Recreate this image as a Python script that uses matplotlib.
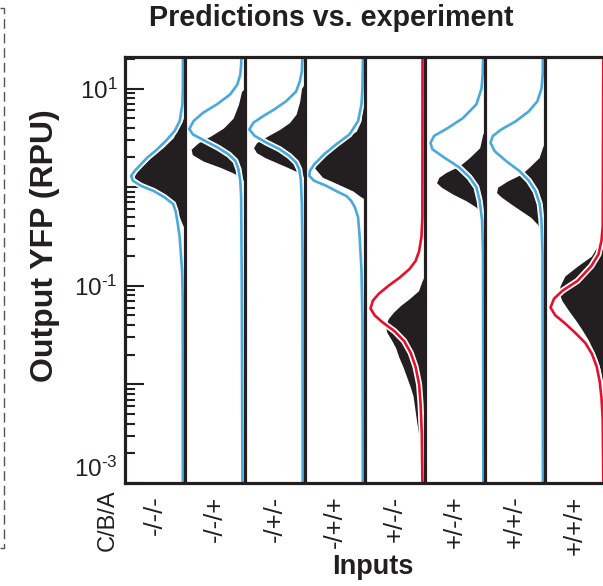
import matplotlib
matplotlib.use("Agg")
import matplotlib.pyplot as plt
import matplotlib.font_manager as fm
from matplotlib import patheffects as pe
from matplotlib.lines import Line2D
from matplotlib.ticker import LogLocator, NullFormatter
import numpy as np

# ---------------- data (log10 of output YFP in RPU, relative density) ----------------
inputs = ['-/-/-', '-/-/+', '-/+/-', '-/+/+', '+/-/-', '+/-/+', '+/+/-', '+/+/+']
pred_colors = ['blue', 'blue', 'blue', 'blue', 'red', 'blue', 'blue', 'red']

exp_1 = [(0.72, 0), (0.67, 0.04), (0.50, 0.19), (0.40, 0.36), (0.33, 0.51), (0.23, 0.68), (0.165, 0.79),
         (0.10, 0.85), (0.03, 0.79), (-0.04, 0.62), (-0.10, 0.40), (-0.17, 0.22), (-0.24, 0.14),
         (-0.31, 0.08), (-0.37, 0.04), (-0.42, 0)]
pred_1 = [(1.35, 0.025), (1.0, 0.028), (0.84, 0.035), (0.67, 0.08), (0.57, 0.165), (0.47, 0.31), (0.37, 0.48),
          (0.30, 0.62), (0.23, 0.73), (0.165, 0.83), (0.115, 0.89), (0.065, 0.86), (0.015, 0.73),
          (-0.04, 0.51), (-0.10, 0.34), (-0.17, 0.19), (-0.24, 0.15), (-0.34, 0.12), (-0.51, 0.08),
          (-0.85, 0.04), (-1.11, 0.03), (-3.0, 0.028)]

exp_2 = [(1.0, 0), (0.97, 0.05), (0.84, 0.10), (0.70, 0.19), (0.60, 0.35), (0.52, 0.56), (0.45, 0.77),
         (0.385, 0.89), (0.33, 0.87), (0.265, 0.69), (0.20, 0.40), (0.15, 0.21), (0.115, 0.10),
         (0.08, 0.04), (0.06, 0)]
pred_2 = [(1.35, 0.05), (1.24, 0.056), (1.14, 0.07), (1.04, 0.12), (0.94, 0.24), (0.84, 0.46), (0.755, 0.69),
          (0.67, 0.85), (0.59, 0.92), (0.535, 0.86), (0.47, 0.66), (0.40, 0.44), (0.33, 0.26),
          (0.265, 0.15), (0.18, 0.10), (0.065, 0.07), (-0.10, 0.056), (-1.0, 0.045), (-3.0, 0.035)]

exp_3 = [(1.05, 0), (1.0, 0.05), (0.87, 0.08), (0.74, 0.14), (0.655, 0.25), (0.585, 0.415), (0.52, 0.61),
         (0.45, 0.80), (0.40, 0.85), (0.35, 0.80), (0.30, 0.66), (0.25, 0.47), (0.20, 0.28),
         (0.16, 0.14), (0.13, 0.077), (0.10, 0)]
pred_3 = [(1.35, 0.033), (1.175, 0.044), (1.075, 0.077), (0.97, 0.14), (0.87, 0.31), (0.79, 0.50),
          (0.72, 0.69), (0.655, 0.85), (0.585, 0.92), (0.52, 0.83), (0.45, 0.63), (0.385, 0.415),
          (0.315, 0.25), (0.25, 0.14), (0.18, 0.087), (0.065, 0.06), (-0.17, 0.044), (-0.68, 0.033),
          (-3.0, 0.03)]

exp_4 = [(0.90, 0), (0.84, 0.03), (0.67, 0.06), (0.57, 0.135), (0.47, 0.36), (0.37, 0.64), (0.30, 0.81),
         (0.25, 0.865), (0.20, 0.84), (0.10, 0.70), (0.03, 0.44), (-0.04, 0.19), (-0.09, 0.08), (-0.12, 0)]
pred_4 = [(1.35, 0.025), (1.0, 0.034), (0.84, 0.05), (0.67, 0.107), (0.535, 0.25), (0.435, 0.47),
          (0.335, 0.67), (0.23, 0.84), (0.165, 0.91), (0.115, 0.92), (0.065, 0.84), (0.015, 0.64),
          (-0.04, 0.47), (-0.09, 0.30), (-0.14, 0.22), (-0.205, 0.16), (-0.305, 0.107), (-0.51, 0.08),
          (-0.85, 0.05), (-1.35, 0.034), (-3.0, 0.028)]

exp_5 = [(-0.90, 0), (-0.95, 0.04), (-1.05, 0.10), (-1.13, 0.25), (-1.20, 0.40), (-1.27, 0.52), (-1.33, 0.60),
         (-1.40, 0.65), (-1.47, 0.63), (-1.55, 0.55), (-1.63, 0.48), (-1.72, 0.43), (-1.82, 0.36),
         (-1.92, 0.30), (-2.02, 0.24), (-2.12, 0.19), (-2.25, 0.16), (-2.38, 0.13), (-2.50, 0.10),
         (-2.62, 0.09), (-2.75, 0.07), (-2.88, 0.05), (-2.95, 0.03), (-2.98, 0)]
pred_5 = [(1.35, 0.033), (-0.3, 0.035), (-0.5, 0.05), (-0.65, 0.09), (-0.75, 0.15), (-0.83, 0.25),
          (-0.92, 0.42), (-1.00, 0.60), (-1.08, 0.76), (-1.15, 0.86), (-1.23, 0.90), (-1.30, 0.83),
          (-1.37, 0.70), (-1.46, 0.50), (-1.56, 0.34), (-1.68, 0.23), (-1.82, 0.15), (-2.0, 0.09),
          (-2.2, 0.065), (-2.5, 0.045), (-3.0, 0.035)]

exp_6 = [(0.57, 0), (0.535, 0.03), (0.40, 0.08), (0.30, 0.25), (0.215, 0.42), (0.15, 0.64), (0.10, 0.76),
         (0.045, 0.80), (0.0, 0.72), (-0.07, 0.53), (-0.14, 0.30), (-0.205, 0.135), (-0.255, 0.067),
         (-0.29, 0)]
pred_6 = [(1.35, 0.022), (1.15, 0.03), (1.0, 0.05), (0.84, 0.135), (0.70, 0.36), (0.60, 0.61), (0.52, 0.84),
          (0.45, 0.90), (0.385, 0.87), (0.30, 0.67), (0.20, 0.42), (0.10, 0.25), (0.0, 0.135),
          (-0.14, 0.08), (-0.34, 0.04), (-0.68, 0.025), (-3.0, 0.02)]

exp_7 = [(0.45, 0), (0.40, 0.035), (0.30, 0.09), (0.20, 0.26), (0.13, 0.39), (0.065, 0.61), (0.0, 0.78),
         (-0.055, 0.80), (-0.10, 0.72), (-0.17, 0.56), (-0.24, 0.39), (-0.305, 0.23), (-0.375, 0.12),
         (-0.44, 0.066), (-0.49, 0.038), (-0.525, 0)]
pred_7 = [(1.35, 0.027), (1.14, 0.03), (1.0, 0.05), (0.87, 0.12), (0.77, 0.26), (0.67, 0.475), (0.585, 0.72),
          (0.52, 0.86), (0.45, 0.90), (0.365, 0.83), (0.265, 0.64), (0.165, 0.42), (0.065, 0.26),
          (-0.04, 0.15), (-0.17, 0.08), (-0.34, 0.05), (-0.68, 0.033), (-3.0, 0.027)]

exp_8 = [(-0.25, 0), (-0.30, 0.03), (-0.45, 0.05), (-0.58, 0.10), (-0.70, 0.22), (-0.80, 0.45), (-0.90, 0.66),
         (-1.00, 0.74), (-1.07, 0.76), (-1.15, 0.71), (-1.25, 0.60), (-1.35, 0.48), (-1.45, 0.37),
         (-1.55, 0.27), (-1.65, 0.19), (-1.75, 0.12), (-1.85, 0.07), (-1.95, 0.04), (-2.05, 0.02),
         (-2.1, 0)]
pred_8 = [(1.35, 0.02), (-0.4, 0.03), (-0.54, 0.05), (-0.68, 0.10), (-0.80, 0.22), (-0.95, 0.45),
          (-1.05, 0.70), (-1.13, 0.84), (-1.22, 0.90), (-1.30, 0.82), (-1.38, 0.66), (-1.47, 0.50),
          (-1.58, 0.32), (-1.69, 0.21), (-1.82, 0.13), (-1.97, 0.08), (-2.14, 0.05), (-2.35, 0.03),
          (-3.0, 0.02)]

experiments = [exp_1, exp_2, exp_3, exp_4, exp_5, exp_6, exp_7, exp_8]
predictions = [pred_1, pred_2, pred_3, pred_4, pred_5, pred_6, pred_7, pred_8]

# ---------------- style ----------------
BLACK = '#231f20'
COLORS = {'blue': '#49a9dd', 'red': '#e5102c'}

avail = {f.name for f in fm.fontManager.ttflist}
SANS = 'Liberation Sans' if 'Liberation Sans' in avail else 'DejaVu Sans'
plt.rcParams['font.family'] = [SANS, 'DejaVu Sans']
plt.rcParams['mathtext.fontset'] = 'custom'
plt.rcParams['mathtext.rm'] = SANS
plt.rcParams['mathtext.it'] = SANS
plt.rcParams['mathtext.bf'] = SANS + ':bold'
plt.rcParams['axes.unicode_minus'] = False

W, H = 603, 586
fig = plt.figure(figsize=(W / 100, H / 100), dpi=100)
ax = fig.add_axes([124.5 / W, 103 / H, 480 / W, 426 / H])
ax.set_yscale('log')
ax.set_xlim(0, 8)
ax.set_ylim(10 ** -2.98, 10 ** 1.32)

halo = [pe.Stroke(linewidth=4.4, foreground='white'), pe.Normal()]
for i, (ex, pr, c) in enumerate(zip(experiments, predictions, pred_colors)):
    base = i + 1
    eL = np.array([p[0] for p in ex]); ew = np.array([p[1] for p in ex])
    ax.fill_betweenx(10 ** eL, base - ew, base, color=BLACK, lw=0, zorder=3)
    pL = np.array([p[0] for p in pr]); pw = np.array([p[1] for p in pr])
    ax.plot(base - pw, 10 ** pL, color=COLORS[c], lw=1.9, zorder=4,
            solid_joinstyle='round', path_effects=halo)

for k in range(1, 8):
    ax.axvline(k, color=BLACK, lw=2.3, zorder=5)

for s in ax.spines.values():
    s.set_linewidth(2.3)
    s.set_color(BLACK)
    s.set_zorder(6)

HY = '\u2010'
ax.set_yticks([10, 1, 0.1, 0.01, 0.001],
              labels=[r'$\mathregular{10^{1}}$', '', r'$\mathregular{10^{' + HY + '1}}$', '', ''])
ax.yaxis.set_minor_locator(LogLocator(base=10, subs=np.arange(2, 10)))
ax.yaxis.set_minor_formatter(NullFormatter())
ax.tick_params(axis='y', which='major', direction='in', length=13.5, width=1.5, color=BLACK,
               labelsize=17.5, pad=5, labelcolor=BLACK, right=False)
ax.tick_params(axis='y', which='minor', direction='in', length=7.2, width=1.5, color=BLACK, right=False)
ax.annotate(r'$\mathregular{10^{' + HY + '3}}$', xy=(0, 1e-3), xycoords=('axes fraction', 'data'),
            xytext=(-5, 10), textcoords='offset points', ha='right', va='center',
            fontsize=17.5, color=BLACK)

ax.set_xticks(np.arange(8) + 0.5, labels=inputs)
ax.tick_params(axis='x', length=0, pad=9, labelsize=18.5, labelrotation=90, labelcolor=BLACK)

fig.text(331 / W, 1 - 18 / H, 'Predictions vs. experiment', weight='bold',
         fontsize=20.6, ha='center', va='center', color=BLACK)
fig.text(45 / W, 1 - 246 / H, 'Output YFP (RPU)', weight='bold', fontsize=23,
         rotation=90, ha='center', va='center', color=BLACK)
fig.text(373 / W, 1 - 567 / H, 'Inputs', weight='bold', fontsize=19.5,
         ha='center', va='center', color=BLACK)
fig.text(108 / W, 1 - 520 / H, 'C/B/A', fontsize=17, rotation=90, ha='center', va='center',
         color=BLACK)

# dashed bracket at left
bx = [0, 4 / W, 4 / W, 0]
by = [1 - 8 / H, 1 - 8 / H, 1 - 548 / H, 1 - 548 / H]
fig.add_artist(Line2D(bx, by, transform=fig.transFigure, color='#555555', lw=1.0,
                      linestyle=(0, (7, 3.5))))

fig.savefig('out.png', dpi=100)
